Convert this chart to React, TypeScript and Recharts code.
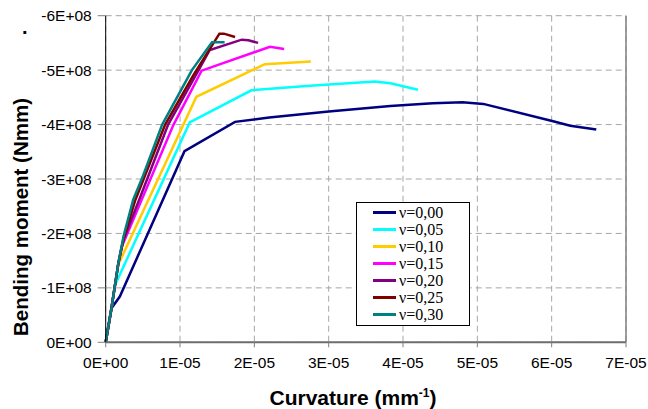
import {
  LineChart,
  Line,
  XAxis,
  YAxis,
  CartesianGrid,
  Legend,
  ReferenceLine,
} from 'recharts';

// curvature in 1E-05 mm^-1, bending moment in 1E+08 Nmm (negative)
const K_000 = [0, 0.08, 0.19, 1.06, 1.74, 2.2, 3.0, 3.83, 4.4, 4.8, 5.08, 6.02, 6.25, 6.6];
const M_000 = [0, -0.63, -0.84, -3.51, -4.05, -4.13, -4.24, -4.34, -4.39, -4.41, -4.38, -4.06, -3.98, -3.91];

const K_005 = [0, 0.08, 0.125, 1.13, 1.96, 2.7, 3.62, 3.83, 4.2];
const M_005 = [0, -0.65, -1.05, -4.04, -4.63, -4.71, -4.79, -4.76, -4.64];

const K_010 = [0, 0.08, 0.17, 1.22, 2.14, 2.76];
const M_010 = [0, -0.65, -1.43, -4.51, -5.11, -5.16];

const K_015 = [0, 0.08, 0.17, 0.215, 0.91, 1.29, 2.21, 2.4];
const M_015 = [0, -0.65, -1.45, -1.75, -3.99, -4.99, -5.43, -5.39];

const K_020 = [0, 0.08, 0.17, 0.23, 0.46, 0.84, 1.25, 1.4, 1.83, 1.92, 2.05];
const M_020 = [0, -0.65, -1.45, -1.85, -2.65, -4.0, -5.0, -5.37, -5.56, -5.55, -5.5];

const K_025 = [0, 0.08, 0.17, 0.25, 0.4, 0.8, 1.18, 1.53, 1.59, 1.74];
const M_025 = [0, -0.65, -1.45, -1.95, -2.62, -4.0, -4.91, -5.67, -5.67, -5.61];

const K_030 = [0, 0.08, 0.17, 0.24, 0.37, 0.5, 0.76, 1.16, 1.43, 1.6];
const M_030 = [0, -0.65, -1.45, -1.95, -2.62, -3.05, -4.0, -5.0, -5.51, -5.51];

const X_TICKS = [0, 1e-5, 2e-5, 3e-5, 4e-5, 5e-5, 6e-5, 7e-5];
const Y_TICKS = [0, -1e8, -2e8, -3e8, -4e8, -5e8, -6e8];

const toRows = (k: number[], m: number[]) =>
  k.map((v, i) => ({ k: v * 1e-5, m: m[i] * 1e8 }));

const SERIES = [
  { name: 'ν=0,00', color: '#000080', data: toRows(K_000, M_000) },
  { name: 'ν=0,05', color: '#00FFFF', data: toRows(K_005, M_005) },
  { name: 'ν=0,10', color: '#FFCC00', data: toRows(K_010, M_010) },
  { name: 'ν=0,15', color: '#FF00FF', data: toRows(K_015, M_015) },
  { name: 'ν=0,20', color: '#800080', data: toRows(K_020, M_020) },
  { name: 'ν=0,25', color: '#800000', data: toRows(K_025, M_025) },
  { name: 'ν=0,30', color: '#008080', data: toRows(K_030, M_030) },
];

const fmtX = (v: number) => (v === 0 ? '0E+00' : `${Math.round(v / 1e-5)}E-05`);
const fmtY = (v: number) => (v === 0 ? '0E+00' : `-${Math.round(Math.abs(v) / 1e8)}E+08`);

const tickStyle = { fill: '#000', fontSize: 15.5, fontFamily: 'Liberation Sans, Arial, sans-serif' };

function LegendBox({ payload }: any) {
  return (
    <div
      style={{
        border: '1px solid #000',
        background: '#fff',
        width: 112,
        padding: '1px 0 2px 0',
        fontFamily: 'Liberation Serif, Times New Roman, serif',
        fontSize: 16,
        color: '#000',
      }}
    >
      {(payload || []).map((p: any) => (
        <div key={p.value} style={{ display: 'flex', alignItems: 'center', height: 17 }}>
          <div style={{ width: 23, height: 3, background: p.color, marginLeft: 16, marginRight: 3 }} />
          <span style={{ lineHeight: '17px' }}>{p.value}</span>
        </div>
      ))}
    </div>
  );
}

export default function App() {
  return (
    <div
      style={{
        position: 'fixed',
        left: 0,
        top: 0,
        width: 648,
        height: 409,
        overflow: 'hidden',
        background: '#fff',
        fontFamily: 'Liberation Sans, Arial, sans-serif',
      }}
    >
      <LineChart width={648} height={409} margin={{ top: 15.7, right: 22, bottom: 36.7, left: 0 }}>
        <CartesianGrid strokeDasharray="6 4" stroke="#a6a6a6" />
        <XAxis
          dataKey="k"
          type="number"
          domain={[0, 7e-5]}
          ticks={X_TICKS}
          tickFormatter={fmtX}
          height={30}
          tick={tickStyle}
          tickSize={5}
          tickMargin={10}
          axisLine={{ stroke: '#6e6e6e', strokeWidth: 2 }}
          tickLine={{ stroke: '#808080' }}
        />
        <YAxis
          dataKey="m"
          type="number"
          domain={[-6e8, 0]}
          reversed
          ticks={Y_TICKS}
          tickFormatter={fmtY}
          width={105.7}
          tick={tickStyle}
          tickSize={8}
          tickMargin={6}
          axisLine={{ stroke: '#000' }}
          tickLine={{ stroke: '#808080' }}
        />
        <ReferenceLine x={7e-5} stroke="#808080" strokeWidth={1.5} />
        <Legend
          layout="vertical"
          align="center"
          verticalAlign="middle"
          content={<LegendBox />}
          wrapperStyle={{ left: 356, top: 201.7, width: 114 }}
        />
        {SERIES.map((s) => (
          <Line
            key={s.name}
            name={s.name}
            data={s.data}
            dataKey="m"
            stroke={s.color}
            strokeWidth={2.5}
            dot={false}
            type="linear"
            isAnimationActive={false}
          />
        ))}
      </LineChart>
      <div
        style={{
          position: 'absolute',
          left: 21,
          top: 217,
          transform: 'translate(-50%, -50%) rotate(-90deg)',
          whiteSpace: 'nowrap',
          fontWeight: 'bold',
          fontSize: 20.5,
          lineHeight: 1,
        }}
      >
        Bending moment (Nmm)
      </div>
      <div style={{ position: 'absolute', left: 22, top: 17, fontWeight: 'bold', fontSize: 20, lineHeight: 1 }}>.</div>
      <div
        style={{
          position: 'absolute',
          left: 353,
          top: 397,
          transform: 'translate(-50%, -50%)',
          whiteSpace: 'nowrap',
          fontWeight: 'bold',
          fontSize: 21,
          lineHeight: 1,
        }}
      >
        Curvature (mm<sup style={{ fontSize: 12 }}>-1</sup>)
      </div>
    </div>
  );
}
